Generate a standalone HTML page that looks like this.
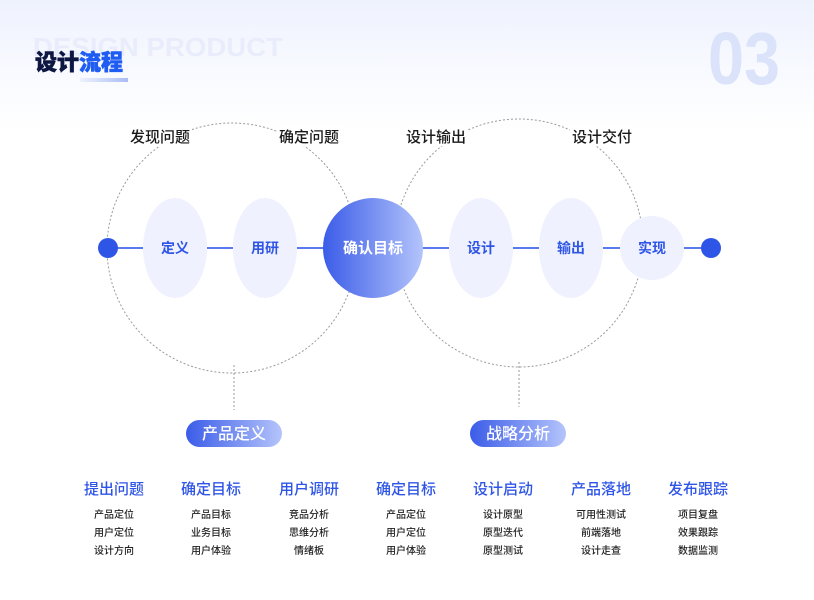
<!DOCTYPE html>
<html><head><meta charset="utf-8"><style>
html,body{margin:0;padding:0;}
body{width:814px;height:600px;overflow:hidden;position:relative;font-family:"Liberation Sans","Noto Sans CJK SC",sans-serif;background:linear-gradient(180deg,#eef2fd 0%,#f8faff 12%,#fff 22%);}
</style></head><body>
<svg width="814" height="600" viewBox="0 0 814 600" xmlns="http://www.w3.org/2000/svg" style="position:absolute;left:0;top:0">
<defs>
<linearGradient id="g" x1="0" x2="1" y1="0" y2="0"><stop offset="0" stop-color="#3b5ce8"/><stop offset="1" stop-color="#b4c4fb"/></linearGradient>
<linearGradient id="bar" x1="0" x2="1"><stop offset="0" stop-color="#eef2fd"/><stop offset="1" stop-color="#aabcf4"/></linearGradient>
</defs>
<text x="33" y="56" font-family="Liberation Sans,sans-serif" font-weight="bold" font-size="26" fill="#e9edfb" textLength="250" lengthAdjust="spacingAndGlyphs">DESIGN PRODUCT</text>
<text x="708" y="84" font-family="Liberation Sans,sans-serif" font-weight="bold" font-size="74" fill="#dbe3fb" textLength="72" lengthAdjust="spacingAndGlyphs">03</text>
<rect x="80" y="78" width="48" height="4" fill="url(#bar)"/>
<text x="35" y="70" font-size="22" font-weight="900" stroke-width="0.6" font-family="Liberation Sans,Noto Sans CJK SC,sans-serif"><tspan fill="#0d1742" stroke="#0d1742">设计</tspan><tspan fill="#1f5cf2" stroke="#1f5cf2">流程</tspan></text>

<circle cx="232" cy="248" r="125" fill="none" stroke="#9a9a9a" stroke-width="1" stroke-dasharray="2,2"/>
<circle cx="519" cy="243" r="124" fill="none" stroke="#9a9a9a" stroke-width="1" stroke-dasharray="2,2"/>
<line x1="234" y1="365" x2="234" y2="410" stroke="#9a9a9a" stroke-dasharray="2,2"/>
<line x1="519" y1="362" x2="519" y2="407" stroke="#9a9a9a" stroke-dasharray="2,2"/>

<g font-size="15" fill="#1a1a1a" text-anchor="middle" font-weight="500">
<rect x="128" y="126" width="64" height="20" fill="#fff"/>
<rect x="277" y="126" width="64" height="20" fill="#fff"/>
<rect x="404" y="126" width="64" height="20" fill="#fff"/>
<rect x="570" y="126" width="64" height="20" fill="#fff"/>
<text x="160" y="142">发现问题</text>
<text x="309" y="142">确定问题</text>
<text x="436" y="142">设计输出</text>
<text x="602" y="142">设计交付</text>
</g>

<line x1="108" y1="248" x2="711" y2="248" stroke="#5a7af0" stroke-width="2"/>
<circle cx="108" cy="248" r="10" fill="#2f55e6"/>
<circle cx="711" cy="248" r="10" fill="#2f55e6"/>
<g fill="#eff2fe">
<ellipse cx="175" cy="248" rx="32" ry="50"/>
<ellipse cx="265" cy="248" rx="32" ry="50"/>
<ellipse cx="481" cy="248" rx="32" ry="50"/>
<ellipse cx="571" cy="248" rx="32" ry="50"/>
<circle cx="652" cy="248" r="32"/>
</g>
<circle cx="373" cy="248" r="50" fill="url(#g)"/>
<g font-size="14" fill="#2f55e6" text-anchor="middle" font-weight="bold">
<text x="175" y="253">定义</text>
<text x="265" y="253">用研</text>
<text x="481" y="253">设计</text>
<text x="571" y="253">输出</text>
<text x="652" y="253">实现</text>
<text x="373" y="253" fill="#fff" font-size="15">确认目标</text>
</g>

<rect x="186" y="420" width="96" height="27" rx="13.5" fill="url(#g)"/>
<rect x="470" y="420" width="96" height="27" rx="13.5" fill="url(#g)"/>
<g font-size="16" fill="#fff" text-anchor="middle" font-weight="500">
<text x="234" y="439">产品定义</text>
<text x="518" y="439">战略分析</text>
</g>

<g font-size="15" fill="#2f55e6" text-anchor="middle" font-weight="500">
<text x="114" y="494">提出问题</text>
<text x="211" y="494">确定目标</text>
<text x="309" y="494">用户调研</text>
<text x="406" y="494">确定目标</text>
<text x="503" y="494">设计启动</text>
<text x="601" y="494">产品落地</text>
<text x="698" y="494">发布跟踪</text>
</g>
<g font-size="10" fill="#222" text-anchor="middle" font-weight="500">
<text x="114" y="518">产品定位</text><text x="114" y="536">用户定位</text><text x="114" y="554">设计方向</text>
<text x="211" y="518">产品目标</text><text x="211" y="536">业务目标</text><text x="211" y="554">用户体验</text>
<text x="309" y="518">竞品分析</text><text x="309" y="536">思维分析</text><text x="309" y="554">情绪板</text>
<text x="406" y="518">产品定位</text><text x="406" y="536">用户定位</text><text x="406" y="554">用户体验</text>
<text x="503" y="518">设计原型</text><text x="503" y="536">原型迭代</text><text x="503" y="554">原型测试</text>
<text x="601" y="518">可用性测试</text><text x="601" y="536">前端落地</text><text x="601" y="554">设计走查</text>
<text x="698" y="518">项目复盘</text><text x="698" y="536">效果跟踪</text><text x="698" y="554">数据监测</text>
</g>
</svg>
</body></html>
